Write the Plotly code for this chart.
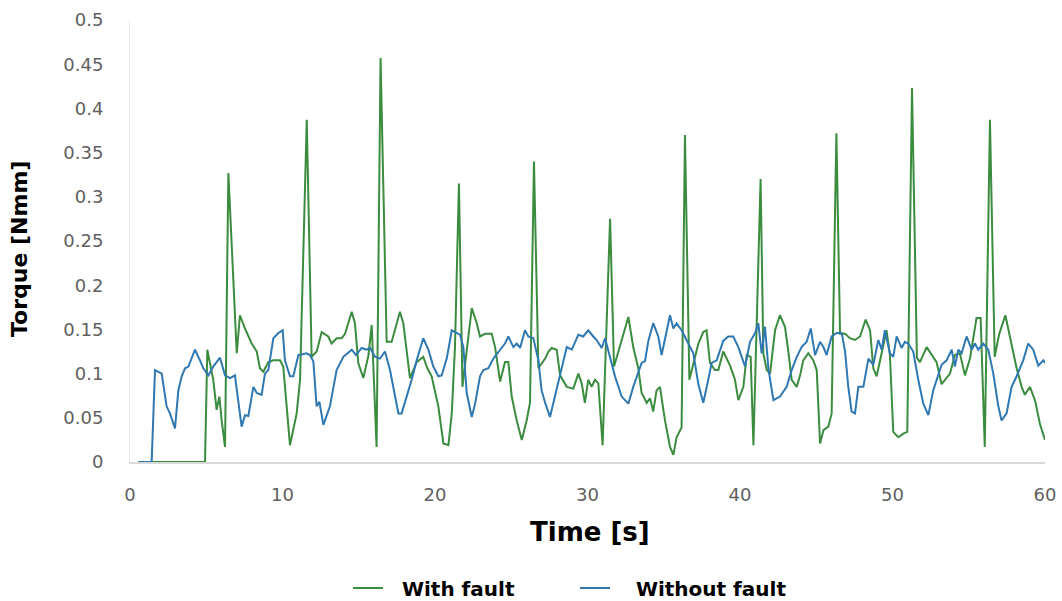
import plotly.graph_objects as go

# Torque signal with the bearing fault (time in s, torque in Nmm)
t_fault = [
    0.55, 4.92, 5.07, 5.25, 5.46, 5.68, 5.86, 6.01, 6.23, 6.45, 7.0, 7.21, 7.54, 7.98,
    8.31, 8.52, 8.74, 9.07, 9.4, 9.84, 10.05, 10.49, 10.93, 11.15, 11.59, 11.91, 12.24,
    12.57, 13.0, 13.22, 13.55, 13.88, 14.1, 14.54, 14.75, 14.97, 15.3, 15.63, 15.85,
    16.17, 16.43, 16.83, 17.16, 17.7, 17.92, 18.36, 18.8, 19.23, 19.5, 19.78, 20.22,
    20.55, 20.88, 21.1, 21.31, 21.57, 21.8, 22.41, 22.74, 22.95, 23.28, 23.72, 23.94,
    24.27, 24.59, 24.81, 25.03, 25.36, 25.69, 26.01, 26.23, 26.49, 26.78, 27.22, 27.44,
    27.65, 27.98, 28.2, 28.64, 29.07, 29.4, 29.62, 29.83, 30.05, 30.27, 30.49, 30.71,
    30.99, 31.48, 31.74, 32.02, 32.35, 32.68, 33.0, 33.33, 33.55, 33.88, 34.1, 34.31,
    34.53, 34.75, 35.08, 35.41, 35.63, 35.84, 36.17, 36.39, 36.68, 36.94, 37.27, 37.59,
    37.81, 38.03, 38.36, 38.58, 38.9, 39.35, 39.67, 39.89, 40.22, 40.44, 40.7, 40.88,
    41.35, 41.53, 41.75, 41.97, 42.3, 42.62, 42.95, 43.17, 43.39, 43.72, 43.94, 44.15,
    44.48, 44.81, 45.03, 45.25, 45.47, 45.79, 46.01, 46.32, 46.56, 46.89, 47.21, 47.54,
    47.87, 48.24, 48.53, 48.74, 48.96, 49.4, 49.61, 49.83, 50.05, 50.38, 50.71, 50.97,
    51.28, 51.6, 51.8, 52.24, 52.56, 52.89, 53.22, 53.44, 53.77, 54.09, 54.42, 54.75,
    55.08, 55.51, 55.78, 56.05, 56.39, 56.7, 57.0, 57.4, 57.7, 58.14, 58.47, 58.68,
    59.01, 59.34, 59.67, 60.0,
]
torque_fault = [
    0.0, 0.0, 0.127, 0.112, 0.093, 0.059, 0.074, 0.047, 0.017, 0.327, 0.123, 0.166, 0.151, 0.134,
    0.125, 0.106, 0.102, 0.113, 0.115, 0.115, 0.108, 0.019, 0.055, 0.093, 0.387, 0.119, 0.125,
    0.147, 0.142, 0.134, 0.14, 0.14, 0.145, 0.17, 0.157, 0.112, 0.095, 0.12, 0.155,
    0.017, 0.457, 0.136, 0.136, 0.17, 0.157, 0.095, 0.113, 0.119, 0.106, 0.097, 0.063,
    0.021, 0.019, 0.055, 0.13, 0.315, 0.085, 0.174, 0.157, 0.142, 0.145, 0.145, 0.13,
    0.091, 0.113, 0.113, 0.074, 0.047, 0.025, 0.047, 0.067, 0.34, 0.106, 0.117, 0.125,
    0.129, 0.127, 0.098, 0.085, 0.083, 0.1, 0.089, 0.067, 0.093, 0.085, 0.093, 0.089,
    0.019, 0.275, 0.108, 0.125, 0.145, 0.164, 0.13, 0.106, 0.078, 0.067, 0.072, 0.057,
    0.081, 0.085, 0.047, 0.017, 0.008, 0.028, 0.039, 0.37, 0.093, 0.112, 0.134, 0.147,
    0.149, 0.112, 0.104, 0.104, 0.125, 0.109, 0.093, 0.07, 0.085, 0.121, 0.119, 0.019,
    0.32, 0.123, 0.104, 0.1, 0.149, 0.166, 0.153, 0.125, 0.093, 0.085, 0.098, 0.115,
    0.123, 0.115, 0.104, 0.021, 0.036, 0.04, 0.055, 0.372, 0.145, 0.145, 0.14, 0.138,
    0.142, 0.161, 0.149, 0.106, 0.097, 0.132, 0.149, 0.121, 0.034, 0.028, 0.032, 0.034,
    0.423, 0.118, 0.113, 0.13, 0.121, 0.113, 0.088, 0.093, 0.1, 0.121, 0.123, 0.098,
    0.117, 0.163, 0.163, 0.017, 0.387, 0.119, 0.145, 0.166, 0.14, 0.106, 0.085, 0.076,
    0.085, 0.07, 0.043, 0.025,
]

# Torque signal of the healthy drive
t_healthy = [
    0.55, 1.42, 1.64, 2.08, 2.4, 2.62, 2.95, 3.17, 3.39, 3.61, 3.83, 4.26, 4.59, 4.81,
    5.14, 5.46, 5.9, 6.23, 6.56, 6.88, 7.32, 7.54, 7.76, 8.09, 8.31, 8.63, 8.85, 9.07,
    9.4, 9.73, 10.01, 10.16, 10.49, 10.71, 11.04, 11.58, 11.8, 12.02, 12.24, 12.42,
    12.68, 13.11, 13.55, 13.99, 14.54, 14.82, 15.19, 15.52, 15.74, 16.07, 16.39, 16.72,
    17.05, 17.38, 17.6, 17.81, 18.14, 18.47, 18.8, 19.23, 19.57, 19.89, 20.22, 20.44,
    20.77, 21.1, 21.31, 21.64, 21.86, 22.08, 22.41, 22.63, 22.95, 23.17, 23.5, 23.83,
    24.27, 24.59, 24.81, 25.14, 25.36, 25.58, 25.9, 26.12, 26.45, 26.78, 26.99, 27.22,
    27.54, 27.87, 28.2, 28.64, 28.97, 29.4, 29.72, 30.05, 30.38, 30.6, 30.93, 31.15,
    31.47, 31.8, 32.24, 32.68, 33.0, 33.33, 33.55, 33.77, 33.99, 34.31, 34.64, 34.86,
    35.19, 35.41, 35.63, 35.84, 36.17, 36.5, 36.94, 37.27, 37.59, 37.92, 38.14, 38.47,
    38.9, 39.23, 39.56, 39.89, 40.33, 40.66, 40.99, 41.2, 41.42, 41.64, 41.86, 42.19,
    42.62, 43.06, 43.39, 43.72, 44.04, 44.37, 44.64, 44.92, 45.25, 45.47, 45.68, 46.01,
    46.34, 46.67, 46.89, 47.1, 47.32, 47.54, 47.76, 48.09, 48.42, 48.74, 49.07, 49.29,
    49.5, 49.83, 50.05, 50.27, 50.6, 50.81, 51.03, 51.36, 51.69, 52.02, 52.35, 52.67,
    53.0, 53.22, 53.55, 53.88, 54.09, 54.31, 54.53, 54.86, 55.19, 55.41, 55.62, 55.95,
    56.28, 56.61, 56.94, 57.15, 57.48, 57.81, 58.14, 58.57, 58.9, 59.23, 59.56, 59.89,
    60.0,
]
torque_healthy = [
    0.0, 0.0, 0.104, 0.1, 0.063, 0.055, 0.038, 0.081, 0.097, 0.106, 0.108, 0.127, 0.115, 0.106,
    0.098, 0.108, 0.118, 0.098, 0.095, 0.098, 0.04, 0.053, 0.052, 0.085, 0.078, 0.076, 0.1, 0.104,
    0.14, 0.146, 0.149, 0.115, 0.097, 0.097, 0.121, 0.123, 0.121, 0.114, 0.063, 0.068,
    0.042, 0.063, 0.104, 0.119, 0.127, 0.121, 0.129, 0.127, 0.129, 0.119, 0.117, 0.125,
    0.104, 0.074, 0.055, 0.055, 0.074, 0.093, 0.115, 0.14, 0.127, 0.108, 0.097, 0.098,
    0.117, 0.149, 0.147, 0.144, 0.13, 0.078, 0.051, 0.066, 0.097, 0.104, 0.106, 0.117,
    0.127, 0.134, 0.142, 0.13, 0.134, 0.129, 0.149, 0.142, 0.14, 0.115, 0.081, 0.067,
    0.051, 0.074, 0.1, 0.13, 0.127, 0.144, 0.142, 0.149, 0.142, 0.138, 0.129, 0.14,
    0.119, 0.097, 0.074, 0.066, 0.085, 0.102, 0.112, 0.114, 0.137, 0.157, 0.142, 0.121,
    0.149, 0.166, 0.151, 0.157, 0.149, 0.138, 0.123, 0.088, 0.067, 0.093, 0.112, 0.115,
    0.137, 0.142, 0.142, 0.13, 0.108, 0.136, 0.146, 0.157, 0.123, 0.153, 0.106, 0.07,
    0.074, 0.085, 0.104, 0.119, 0.13, 0.136, 0.151, 0.121, 0.136, 0.13, 0.121, 0.142,
    0.146, 0.146, 0.125, 0.085, 0.057, 0.055, 0.085, 0.085, 0.117, 0.11, 0.138, 0.127,
    0.149, 0.123, 0.119, 0.142, 0.129, 0.136, 0.134, 0.125, 0.093, 0.066, 0.053, 0.081,
    0.098, 0.11, 0.115, 0.127, 0.108, 0.127, 0.123, 0.142, 0.127, 0.134, 0.127, 0.134,
    0.127, 0.1, 0.063, 0.047, 0.055, 0.085, 0.097, 0.115, 0.134, 0.127, 0.109, 0.115,
    0.112,
]

series_names = ["\u00a0\u00a0With fault", "\u00a0\u00a0\u00a0Without fault"]
x_ticks = [0, 10, 20, 30, 40, 50, 60]
y_ticks = [0, 0.05, 0.1, 0.15, 0.2, 0.25, 0.3, 0.35, 0.4, 0.45, 0.5]

GREEN = "#3b8c3e"
BLUE = "#2f78b2"
TICK_GREY = "#5f5f5f"

fig = go.Figure()
fig.add_trace(go.Scatter(x=t_fault, y=torque_fault, mode="lines", name=series_names[0],
                         line=dict(color=GREEN, width=2)))
fig.add_trace(go.Scatter(x=t_healthy, y=torque_healthy, mode="lines", name=series_names[1],
                         line=dict(color=BLUE, width=2)))

fig.update_layout(
    width=1062, height=601,
    margin=dict(l=130, r=17, t=20, b=139, autoexpand=False),
    paper_bgcolor="white", plot_bgcolor="white",
    font=dict(family="DejaVu Sans", color="black"),
    showlegend=True,
    legend=dict(orientation="h", x=(348 - 130) / 915, xanchor="left",
                y=(462 - 588) / 442, yanchor="middle",
                entrywidth=182, entrywidthmode="pixels",
                font=dict(family="DejaVu Sans", size=20, color="black", weight="bold"),
                bgcolor="rgba(0,0,0,0)", borderwidth=0),
    xaxis=dict(range=[0, 60], tickvals=x_ticks, showgrid=False, zeroline=False,
               showline=True, linecolor="#d9d9d9", linewidth=1.5, ticks="",
               ticklabelstandoff=16, automargin=False,
               tickfont=dict(family="DejaVu Sans", size=18, color=TICK_GREY)),
    yaxis=dict(range=[0, 0.5], tickvals=y_ticks, showgrid=False, zeroline=False,
               showline=True, linecolor="#ececec", linewidth=1, ticks="",
               ticklabelstandoff=22, automargin=False,
               tickfont=dict(family="DejaVu Sans", size=18, color=TICK_GREY)),
    annotations=[
        dict(text="Time [s]", xref="paper", yref="paper", x=(590 - 130) / 915,
             y=(462 - 532) / 442, xanchor="center", yanchor="middle", showarrow=False,
             font=dict(family="DejaVu Sans", size=26, color="black", weight="bold")),
        dict(text="Torque [Nmm]", xref="paper", yref="paper", x=(20 - 130) / 915,
             y=(462 - 249) / 442, xanchor="center", yanchor="middle", showarrow=False,
             textangle=-90,
             font=dict(family="DejaVu Sans", size=22, color="black", weight="bold")),
    ],
)

fig.write_html("out.html")
